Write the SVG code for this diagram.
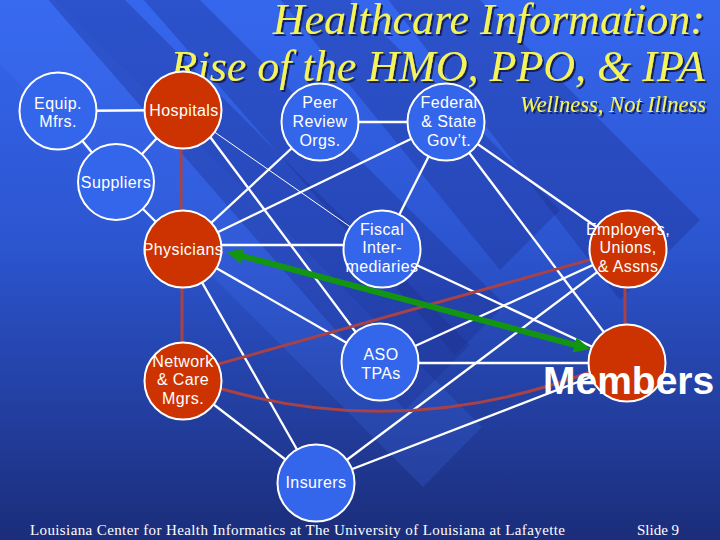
<svg xmlns="http://www.w3.org/2000/svg" width="720" height="540" viewBox="0 0 720 540">
<defs>
<linearGradient id="bg" x1="0" y1="0" x2="0" y2="1">
<stop offset="0" stop-color="#3567ee"/>
<stop offset="0.45" stop-color="#2c55d0"/>
<stop offset="1" stop-color="#1b2d7a"/>
</linearGradient>
<filter id="shadow" x="-5%" y="-20%" width="110%" height="140%">
<feFlood flood-color="#16205a" result="c"/>
<feComposite in="c" in2="SourceAlpha" operator="in" result="s"/>
<feOffset in="s" dx="2" dy="2" result="o"/>
<feMerge><feMergeNode in="o"/><feMergeNode in="SourceGraphic"/></feMerge>
</filter>
<marker id="ga" markerUnits="userSpaceOnUse" markerWidth="16" markerHeight="16" refX="4" refY="8" orient="auto-start-reverse" viewBox="0 0 16 16">
<path d="M0,0 L16,8 L0,16 z" fill="#129612"/>
</marker>
<style>
.ttl{font-family:"Liberation Serif","Times New Roman",serif;font-style:italic;fill:#f4f45a}
.nb{fill:#3466ec;stroke:#ffffff;stroke-width:2}
.nr{fill:#cc3300;stroke:#ffffff;stroke-width:2}
.lb{font-family:"Liberation Sans",Arial,sans-serif;font-size:16px;fill:#ffffff;text-anchor:middle;letter-spacing:0.4px}
.w{stroke:#ffffff;stroke-width:2.3;fill:none}
.t{stroke:#ffffff;stroke-width:1;fill:none}
.r{stroke:#a84246;stroke-width:3;fill:none}
.g{stroke:#129612;stroke-width:6;fill:none}
.ft{font-family:"Liberation Serif","Times New Roman",serif;font-size:15px;fill:#ffffff}
.band-d{fill:#1c2f8c;opacity:0.35}
.band-l{fill:#4a7cff;opacity:0.18}
</style>
</defs>
<rect width="720" height="540" fill="url(#bg)"/>
<g id="background-stripes">
<polygon class="band-l" points="-114,-50 5,-50 482,427 423,487"/>
<polygon class="band-d" points="5,-50 75,-50 470,345 405,410"/>
<polygon class="band-d" points="100,-50 150,-50 505,305 455,355"/>
<polygon class="band-d" points="240,-50 300,-50 560,210 500,270"/>
<polygon class="band-d" points="350,-50 430,-50 700,220 620,300"/>
</g>
<g id="title" filter="url(#shadow)">
<text class="ttl" x="705" y="34" font-size="44" text-anchor="end">Healthcare Information:</text>
<text class="ttl" x="705" y="81" font-size="44" text-anchor="end">Rise of the HMO, PPO, &amp; IPA</text>
<text class="ttl" x="706" y="112" font-size="22.5" text-anchor="end">Wellness, Not Illness</text>
</g>
<g id="connectors">
<line class="w" x1="58" y1="111" x2="183" y2="110"/>
<line class="w" x1="58" y1="111" x2="116" y2="182"/>
<line class="w" x1="183" y1="110" x2="116" y2="182"/>
<line class="w" x1="116" y1="182" x2="183" y2="249"/>
<line class="t" x1="183" y1="110" x2="382" y2="249"/>
<line class="w" x1="190" y1="110" x2="378" y2="362"/>
<line class="w" x1="320" y1="122" x2="446" y2="122"/>
<line class="w" x1="320" y1="122" x2="183" y2="249"/>
<line class="w" x1="446" y1="122" x2="183" y2="249"/>
<line class="w" x1="446" y1="122" x2="382" y2="249"/>
<line class="w" x1="446" y1="122" x2="628" y2="249"/>
<line class="w" x1="446" y1="122" x2="627" y2="363"/>
<line class="w" x1="183" y1="245" x2="382" y2="245"/>
<line class="w" x1="183" y1="249" x2="380" y2="362"/>
<line class="w" x1="183" y1="249" x2="316" y2="483"/>
<line class="w" x1="382" y1="249" x2="627" y2="363"/>
<line class="w" x1="380" y1="363" x2="627" y2="363"/>
<line class="w" x1="380" y1="362" x2="628" y2="249"/>
<line class="w" x1="628" y1="249" x2="316" y2="483"/>
<line class="w" x1="316" y1="483" x2="627" y2="363"/>
<line class="w" x1="183" y1="381" x2="316" y2="483"/>
<line class="r" x1="181" y1="110" x2="181" y2="249"/>
<line class="r" x1="182" y1="249" x2="182" y2="381"/>
<line class="r" x1="625" y1="249" x2="625" y2="363"/>
<line class="r" x1="183" y1="374" x2="628" y2="249"/>
<path class="r" d="M222,389 Q405,441 590,372"/>
<line class="g" x1="238.6" y1="255.1" x2="578.4" y2="345.9" marker-start="url(#ga)" marker-end="url(#ga)"/>
</g>
<g id="node-equip">
<circle class="nb" cx="58" cy="111" r="38.5"/>
<text class="lb" x="58" y="109">Equip.</text>
<text class="lb" x="58" y="127">Mfrs.</text>
</g>
<g id="node-hospitals">
<circle class="nr" cx="183" cy="110" r="38.5"/>
<text class="lb" x="184" y="116">Hospitals</text>
</g>
<g id="node-suppliers">
<circle class="nb" cx="116" cy="182" r="38"/>
<text class="lb" x="116" y="188">Suppliers</text>
</g>
<g id="node-peer">
<circle class="nb" cx="320" cy="122" r="38.5"/>
<text class="lb" x="320" y="108">Peer</text>
<text class="lb" x="320" y="127">Review</text>
<text class="lb" x="320" y="146">Orgs.</text>
</g>
<g id="node-federal">
<circle class="nb" cx="446" cy="122" r="38.5"/>
<text class="lb" x="449" y="108">Federal</text>
<text class="lb" x="449" y="127">&amp; State</text>
<text class="lb" x="449" y="146">Gov’t.</text>
</g>
<g id="node-physicians">
<circle class="nr" cx="183" cy="249" r="38.5"/>
<text class="lb" x="183" y="255">Physicians</text>
</g>
<g id="node-fiscal">
<circle class="nb" cx="382" cy="249" r="38.5"/>
<text class="lb" x="382" y="235">Fiscal</text>
<text class="lb" x="382" y="253">Inter-</text>
<text class="lb" x="382" y="272">mediaries</text>
</g>
<g id="node-employers">
<circle class="nr" cx="628" cy="249" r="38.5"/>
<text class="lb" x="628" y="235">Employers,</text>
<text class="lb" x="628" y="253">Unions,</text>
<text class="lb" x="628" y="272">&amp; Assns</text>
</g>
<g id="node-network">
<circle class="nr" cx="183" cy="381" r="38.5"/>
<text class="lb" x="183" y="367">Network</text>
<text class="lb" x="183" y="385">&amp; Care</text>
<text class="lb" x="183" y="404">Mgrs.</text>
</g>
<g id="node-aso">
<circle class="nb" cx="380" cy="362" r="38.5"/>
<text class="lb" x="381" y="360">ASO</text>
<text class="lb" x="381" y="379">TPAs</text>
</g>
<g id="node-members">
<circle class="nr" cx="627" cy="363" r="38.5"/>
<text x="543" y="394" font-family="'Liberation Sans', Arial, sans-serif" font-weight="bold" font-size="39" fill="#ffffff">Members</text>
</g>
<g id="node-insurers">
<circle class="nb" cx="316" cy="483" r="38.5"/>
<text class="lb" x="316" y="488">Insurers</text>
</g>
<g id="footer">
<text class="ft" x="30" y="535" textLength="535" lengthAdjust="spacing">Louisiana Center for Health Informatics at The University of Louisiana at Lafayette</text>
<text class="ft" x="637" y="535">Slide 9</text>
</g>
</svg>
